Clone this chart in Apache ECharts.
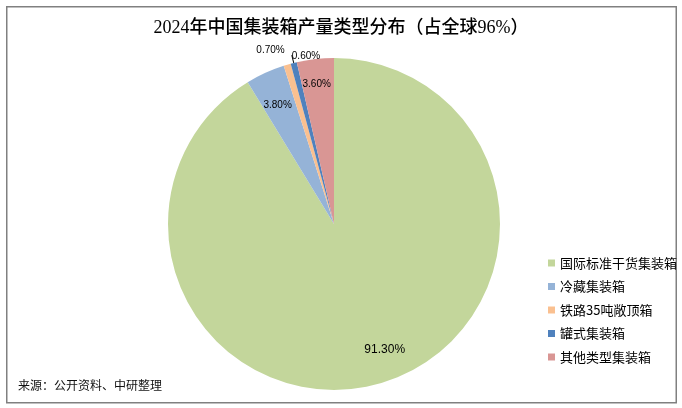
<!DOCTYPE html>
<html>
<head>
<meta charset="utf-8">
<script src="https://cdn.jsdelivr.net/npm/echarts@6/dist/echarts.min.js"></script>
<style>
html,body{margin:0;padding:0;background:#fff;}
#chart{width:682px;height:408px;}
</style>
</head>
<body>
<div id="chart"></div>
<script>
const titleText = '2024年中国集装箱产量类型分布（占全球96%）';
const sourceText = '来源：公开资料、中研整理';
const categories = ['国际标准干货集装箱', '冷藏集装箱', '铁路35吨敞顶箱', '罐式集装箱', '其他类型集装箱'];
const shares = [91.3, 3.8, 0.7, 0.6, 3.6];
const colors = ['#C3D69B', '#95B3D7', '#FAC090', '#4F81BD', '#D99694'];

const chart = echarts.init(document.getElementById('chart'), null, {renderer: 'canvas'});

const CENTER = [334, 224];
const R = 166;
const labelFont = '"Liberation Sans", Arial, sans-serif';

// label placement styles per slice (kept out of data arrays)
const labelStyles = [
  {position: 'inside', fontSize: 12},
  {position: 'inside', fontSize: 10},
  {position: 'outside', fontSize: 10, len: 16, line: false},
  {position: 'outside', fontSize: 10, len: 8, line: true},
  {position: 'inside', fontSize: 10}
];
const labelShift = [[14, -5], [0, 5], [2, 1], [0, 1], [-2, -5]];

const mainData = categories.map((name, i) => ({
  name: name,
  value: shares[i],
  itemStyle: {color: colors[i]}
}));

const labelData = categories.map((name, i) => {
  const s = labelStyles[i];
  const d = {
    name: name,
    value: shares[i],
    itemStyle: {color: 'rgba(0,0,0,0)', borderWidth: 0},
    label: {
      show: true,
      position: s.position,
      fontSize: s.fontSize,
      fontFamily: labelFont,
      color: '#000',
      distanceToLabelLine: 0,
      formatter: p => p.value.toFixed(2) + '%'
    }
  };
  if (s.position === 'outside') {
    d.labelLine = {
      show: true,
      length: s.len,
      length2: 0,
      smooth: false,
      lineStyle: {color: s.line ? '#000' : 'rgba(0,0,0,0)', width: 1}
    };
  }
  return d;
});

const option = {
  animation: false,
  color: colors,
  title: [
    {
      text: titleText,
      left: 'center',
      top: 19,
      padding: 0,
      textStyle: {
        fontSize: 18,
        fontWeight: 500,
        color: '#000',
        fontFamily: '"Liberation Serif", "Noto Sans CJK SC", serif'
      }
    },
    {
      text: sourceText,
      left: 18,
      top: 379,
      padding: 0,
      textStyle: {
        fontSize: 12,
        fontWeight: 'normal',
        color: '#111',
        fontFamily: '"Noto Sans CJK SC", sans-serif'
      }
    }
  ],
  legend: {
    orient: 'vertical',
    left: 548,
    top: 256.5,
    padding: 0,
    itemWidth: 7,
    itemHeight: 7,
    itemGap: 10.5,
    icon: 'rect',
    data: categories,
    textStyle: {
      fontSize: 13,
      color: '#000',
      fontFamily: '"Noto Sans CJK SC", sans-serif'
    }
  },
  graphic: [
    {
      type: 'rect',
      silent: true,
      shape: {x: 6.75, y: 6.75, width: 669.5, height: 396},
      style: {fill: 'none', stroke: '#808080', lineWidth: 1.5}
    }
  ],
  series: [
    {
      type: 'pie',
      name: 'main',
      center: CENTER,
      radius: [0, R],
      startAngle: 90,
      clockwise: true,
      avoidLabelOverlap: false,
      label: {show: false},
      labelLine: {show: false},
      itemStyle: {borderWidth: 0},
      emphasis: {disabled: true},
      data: mainData
    },
    {
      type: 'pie',
      name: 'labels',
      center: CENTER,
      radius: [100, R],
      startAngle: 90,
      clockwise: true,
      silent: true,
      legendHoverLink: false,
      avoidLabelOverlap: false,
      emphasis: {disabled: true},
      data: labelData,
      labelLayout: function (params) {
        const sh = labelShift[params.dataIndex];
        const out = {dx: sh[0], dy: sh[1]};
        if (params.dataIndex === 3) out.align = 'left';
        return out;
      }
    }
  ]
};
chart.setOption(option);
</script>
</body>
</html>
